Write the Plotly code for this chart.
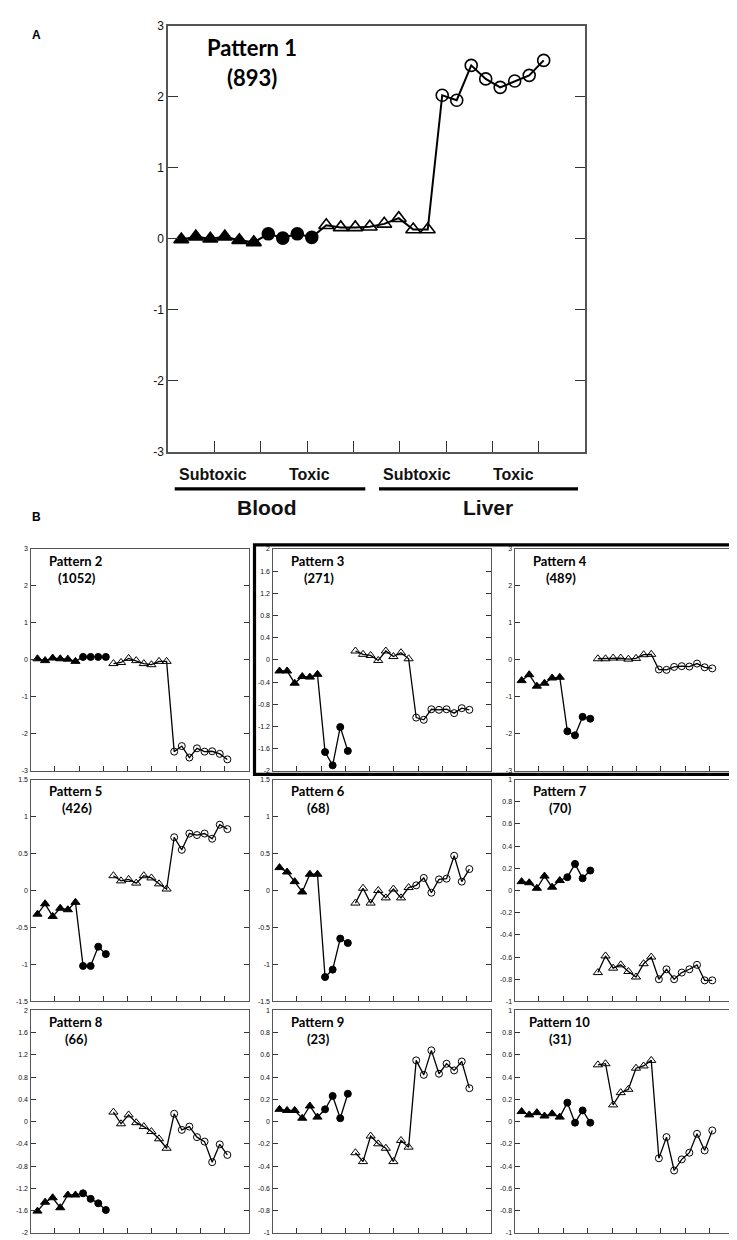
import plotly.graph_objects as go
import numpy as np

W, H = 737, 1240

# ---------------- data ----------------
# 26 points per pattern: 6 blood subtoxic, 4 blood toxic, 8 liver subtoxic, 8 liver toxic
p1_blood_sub = [-0.01, 0.03, 0.0, 0.03, -0.02, -0.05]
p1_blood_tox = [0.07, 0.01, 0.07, 0.02]
p1_liver_sub = [0.19, 0.16, 0.16, 0.17, 0.21, 0.29, 0.13, 0.13]
p1_liver_tox = [2.02, 1.95, 2.44, 2.25, 2.13, 2.22, 2.30, 2.51]

p2_blood_sub = [0.03, -0.02, 0.05, 0.03, 0.02, -0.04]
p2_blood_tox = [0.08, 0.08, 0.08, 0.08]
p2_liver_sub = [-0.1, -0.07, 0.04, -0.02, -0.1, -0.13, -0.04, -0.04]
p2_liver_tox = [-2.48, -2.33, -2.64, -2.39, -2.48, -2.47, -2.54, -2.69]

p3_blood_sub = [-0.2, -0.2, -0.42, -0.3, -0.31, -0.26]
p3_blood_tox = [-1.66, -1.9, -1.21, -1.64]
p3_liver_sub = [0.16, 0.1, 0.08, -0.01, 0.16, 0.06, 0.13, 0.02]
p3_liver_tox = [-1.04, -1.08, -0.89, -0.9, -0.89, -0.96, -0.87, -0.9]

p4_blood_sub = [-0.56, -0.4, -0.71, -0.63, -0.49, -0.47]
p4_blood_tox = [-1.93, -2.04, -1.54, -1.59]
p4_liver_sub = [0.03, 0.03, 0.05, 0.05, 0.02, 0.04, 0.14, 0.15]
p4_liver_tox = [-0.26, -0.27, -0.19, -0.17, -0.18, -0.1, -0.2, -0.23]

p5_blood_sub = [-0.32, -0.18, -0.35, -0.24, -0.26, -0.16]
p5_blood_tox = [-1.02, -1.02, -0.76, -0.86]
p5_liver_sub = [0.2, 0.13, 0.15, 0.1, 0.2, 0.17, 0.09, 0.02]
p5_liver_tox = [0.72, 0.55, 0.77, 0.75, 0.77, 0.7, 0.89, 0.83]

p6_blood_sub = [0.31, 0.25, 0.12, -0.02, 0.22, 0.22]
p6_blood_tox = [-1.17, -1.07, -0.65, -0.71]
p6_liver_sub = [-0.17, 0.03, -0.17, 0.0, -0.1, 0.02, -0.1, 0.04]
p6_liver_tox = [0.07, 0.17, -0.03, 0.15, 0.16, 0.47, 0.12, 0.29]

p7_blood_sub = [0.08, 0.07, 0.02, 0.13, 0.03, 0.09]
p7_blood_tox = [0.12, 0.24, 0.11, 0.18]
p7_liver_sub = [-0.74, -0.59, -0.7, -0.67, -0.73, -0.78, -0.66, -0.6]
p7_liver_tox = [-0.8, -0.71, -0.8, -0.74, -0.71, -0.67, -0.81, -0.81]

p8_blood_sub = [-1.61, -1.45, -1.37, -1.55, -1.32, -1.32]
p8_blood_tox = [-1.29, -1.39, -1.47, -1.59]
p8_liver_sub = [0.17, -0.04, 0.12, -0.02, -0.09, -0.18, -0.31, -0.48]
p8_liver_tox = [0.14, -0.15, -0.09, -0.28, -0.36, -0.73, -0.41, -0.6]

p9_blood_sub = [0.11, 0.1, 0.1, 0.03, 0.14, 0.04]
p9_blood_tox = [0.11, 0.23, 0.03, 0.25]
p9_liver_sub = [-0.28, -0.36, -0.13, -0.2, -0.24, -0.36, -0.17, -0.23]
p9_liver_tox = [0.55, 0.42, 0.64, 0.43, 0.52, 0.46, 0.54, 0.3]

p10_blood_sub = [0.09, 0.06, 0.08, 0.05, 0.07, 0.04]
p10_blood_tox = [0.17, -0.01, 0.1, -0.01]
p10_liver_sub = [0.51, 0.52, 0.15, 0.26, 0.29, 0.48, 0.5, 0.55]
p10_liver_tox = [-0.33, -0.14, -0.44, -0.34, -0.28, -0.11, -0.26, -0.08]

pattern_names = ["Pattern 1", "Pattern 2", "Pattern 3", "Pattern 4", "Pattern 5",
                 "Pattern 6", "Pattern 7", "Pattern 8", "Pattern 9", "Pattern 10"]
pattern_counts = ["(893)", "(1052)", "(271)", "(489)", "(426)",
                  "(68)", "(70)", "(66)", "(23)", "(31)"]
y_ranges = [(-3, 3, 1), (-3, 3, 1), (-2, 2, 0.4), (-3, 3, 1), (-1.5, 1.5, 0.5),
            (-1.5, 1.5, 0.5), (-1, 1, 0.2), (-2, 2, 0.4), (-1, 1, 0.2), (-1, 1, 0.2)]
group_labels = ["Subtoxic", "Toxic", "Subtoxic", "Toxic"]
tissue_labels = ["Blood", "Liver"]

patterns = [
    (p1_blood_sub, p1_blood_tox, p1_liver_sub, p1_liver_tox),
    (p2_blood_sub, p2_blood_tox, p2_liver_sub, p2_liver_tox),
    (p3_blood_sub, p3_blood_tox, p3_liver_sub, p3_liver_tox),
    (p4_blood_sub, p4_blood_tox, p4_liver_sub, p4_liver_tox),
    (p5_blood_sub, p5_blood_tox, p5_liver_sub, p5_liver_tox),
    (p6_blood_sub, p6_blood_tox, p6_liver_sub, p6_liver_tox),
    (p7_blood_sub, p7_blood_tox, p7_liver_sub, p7_liver_tox),
    (p8_blood_sub, p8_blood_tox, p8_liver_sub, p8_liver_tox),
    (p9_blood_sub, p9_blood_tox, p9_liver_sub, p9_liver_tox),
    (p10_blood_sub, p10_blood_tox, p10_liver_sub, p10_liver_tox),
]

# ---------------- layout geometry (pixels) ----------------
def fx(p):
    return p / W

def fy(p):
    return 1 - p / H

boxes = [(160, 577, 10.7, 442)]
cols = [(22.5, 241), (264.5, 483), (506.6, 726)]
rows = [(540, 764.5), (773.3, 997.7), (1006.7, 1231.7)]
for r in rows:
    for c in cols:
        boxes.append((c[0], c[1], r[0], r[1]))

XL, XR = -0.92, 27.85
xticks = [XL + k * (XR - XL) / 9 for k in range(1, 9)]

fig = go.Figure()
layout = dict(width=W, height=H, margin=dict(l=0, r=0, t=0, b=0),
              paper_bgcolor="white", plot_bgcolor="white", showlegend=False)

annotations = []
shapes = []

def fmt(v):
    if abs(v) < 1e-9:
        return "0"
    return "%g" % v

for i, (groups, box) in enumerate(zip(patterns, boxes)):
    big = i == 0
    ax = "" if i == 0 else str(i + 1)
    xa, ya = "x" + ax, "y" + ax
    bs, bt, ls, lt = groups
    n1, n2, n3 = len(bs), len(bs) + len(bt), len(bs) + len(bt) + len(ls)
    xs = list(range(n3 + len(lt)))
    vals = bs + bt + ls + lt
    if big:
        lx, ly = xs, vals
    else:
        lx = xs[:n2] + [None] + xs[n2:]
        ly = vals[:n2] + [None] + vals[n2:]
    lw = 2 if big else 1.3
    msz_t = 13 if big else 8
    msz_c = 12 if big else 7
    mlw = 1.6 if big else 1.0
    fig.add_trace(go.Scatter(x=lx, y=ly, mode="lines", line=dict(color="black", width=lw),
                             xaxis=xa, yaxis=ya, hoverinfo="skip"))
    specs = [(xs[:n1], bs, "triangle-up", msz_t),
             (xs[n1:n2], bt, "circle", msz_c),
             (xs[n2:n3], ls, "triangle-up-open", msz_t),
             (xs[n3:], lt, "circle-open", msz_c)]
    for sx, sy, sym, sz in specs:
        fig.add_trace(go.Scatter(x=sx, y=sy, mode="markers",
                                 marker=dict(symbol=sym, size=sz, color="black",
                                             line=dict(color="black", width=mlw)),
                                 xaxis=xa, yaxis=ya))
    y0, y1, st = y_ranges[i]
    tv = [0.0 if abs(v) < 1e-9 else round(float(v), 2) for v in np.arange(y0, y1 + st / 2, st)]
    tt = [fmt(v) for v in tv]
    x0, x1, t0, t1 = box
    axcol = "#555555"
    layout["xaxis" + ax] = dict(domain=[fx(x0), fx(x1)], range=[XL, XR], anchor=ya,
                                showgrid=False, zeroline=False, showline=True,
                                linecolor=axcol, linewidth=1.5 if big else 1.2, mirror=True,
                                ticks="inside", tickvals=xticks, showticklabels=False,
                                ticklen=11 if big else 5, tickcolor="#333333",
                                tickwidth=1.3 if big else 1)
    layout["yaxis" + ax] = dict(domain=[fy(t1), fy(t0)], range=[y0, y1], anchor=xa,
                                showgrid=False, zeroline=False, showline=True,
                                linecolor=axcol, linewidth=1.5 if big else 1.2, mirror="ticks",
                                ticks="inside", tickvals=tv, ticktext=tt,
                                ticklen=10 if big else 5, tickcolor="#333333",
                                tickwidth=1.3 if big else 1,
                                tickfont=dict(family="Liberation Sans", size=12 if big else 7,
                                              color="#111111"))
    # titles
    if big:
        annotations.append(dict(x=fx(243.5), y=fy(33), xref="paper", yref="paper",
                                text="<b>%s</b>" % pattern_names[i], showarrow=False,
                                font=dict(family="Lato", size=22, color="black"),
                                xanchor="center", yanchor="middle"))
        annotations.append(dict(x=fx(244), y=fy(63), xref="paper", yref="paper",
                                text="<b>%s</b>" % pattern_counts[i], showarrow=False,
                                font=dict(family="Lato", size=22, color="black"),
                                xanchor="center", yanchor="middle"))
    else:
        cx = x0 + 45
        annotations.append(dict(x=fx(cx), y=fy(t0 + 12), xref="paper", yref="paper",
                                text="<b>%s</b>" % pattern_names[i], showarrow=False,
                                font=dict(family="Lato", size=13, color="black"),
                                xanchor="center", yanchor="middle"))
        annotations.append(dict(x=fx(cx + 1), y=fy(t0 + 29), xref="paper", yref="paper",
                                text="<b>%s</b>" % pattern_counts[i], showarrow=False,
                                font=dict(family="Lato", size=13, color="black"),
                                xanchor="center", yanchor="middle"))

# group labels under panel A
for lab, cx in zip(group_labels, [205, 301, 409, 505]):
    annotations.append(dict(x=fx(cx), y=fy(465), xref="paper", yref="paper",
                            text="<b>%s</b>" % lab, showarrow=False,
                            font=dict(family="Liberation Sans", size=16, color="#111111"),
                            xanchor="center", yanchor="middle"))
for lab, cx in zip(tissue_labels, [258, 480]):
    annotations.append(dict(x=fx(cx), y=fy(498), xref="paper", yref="paper",
                            text="<b>%s</b>" % lab, showarrow=False,
                            font=dict(family="Liberation Sans", size=21, color="#111111"),
                            xanchor="center", yanchor="middle"))
for a, b in [(166.7, 357.3), (371, 570)]:
    shapes.append(dict(type="line", xref="paper", yref="paper", x0=fx(a), x1=fx(b),
                       y0=fy(479.3), y1=fy(479.3), line=dict(color="black", width=3.3)))

# panel letters
annotations.append(dict(x=fx(28), y=fy(20), xref="paper", yref="paper", text="<b>A</b>",
                        showarrow=False, font=dict(family="Liberation Sans", size=12, color="black"),
                        xanchor="center", yanchor="middle"))
annotations.append(dict(x=fx(28), y=fy(508), xref="paper", yref="paper", text="<b>B</b>",
                        showarrow=False, font=dict(family="Liberation Sans", size=12, color="black"),
                        xanchor="center", yanchor="middle"))

# thick frame around patterns 3 and 4
shapes.append(dict(type="rect", xref="paper", yref="paper", x0=fx(246.5), x1=fx(731),
                   y0=fy(768), y1=fy(536), line=dict(color="black", width=3.2),
                   fillcolor="rgba(0,0,0,0)"))

layout["annotations"] = annotations
layout["shapes"] = shapes
fig.update_layout(**layout)
fig.write_html("out.html")
